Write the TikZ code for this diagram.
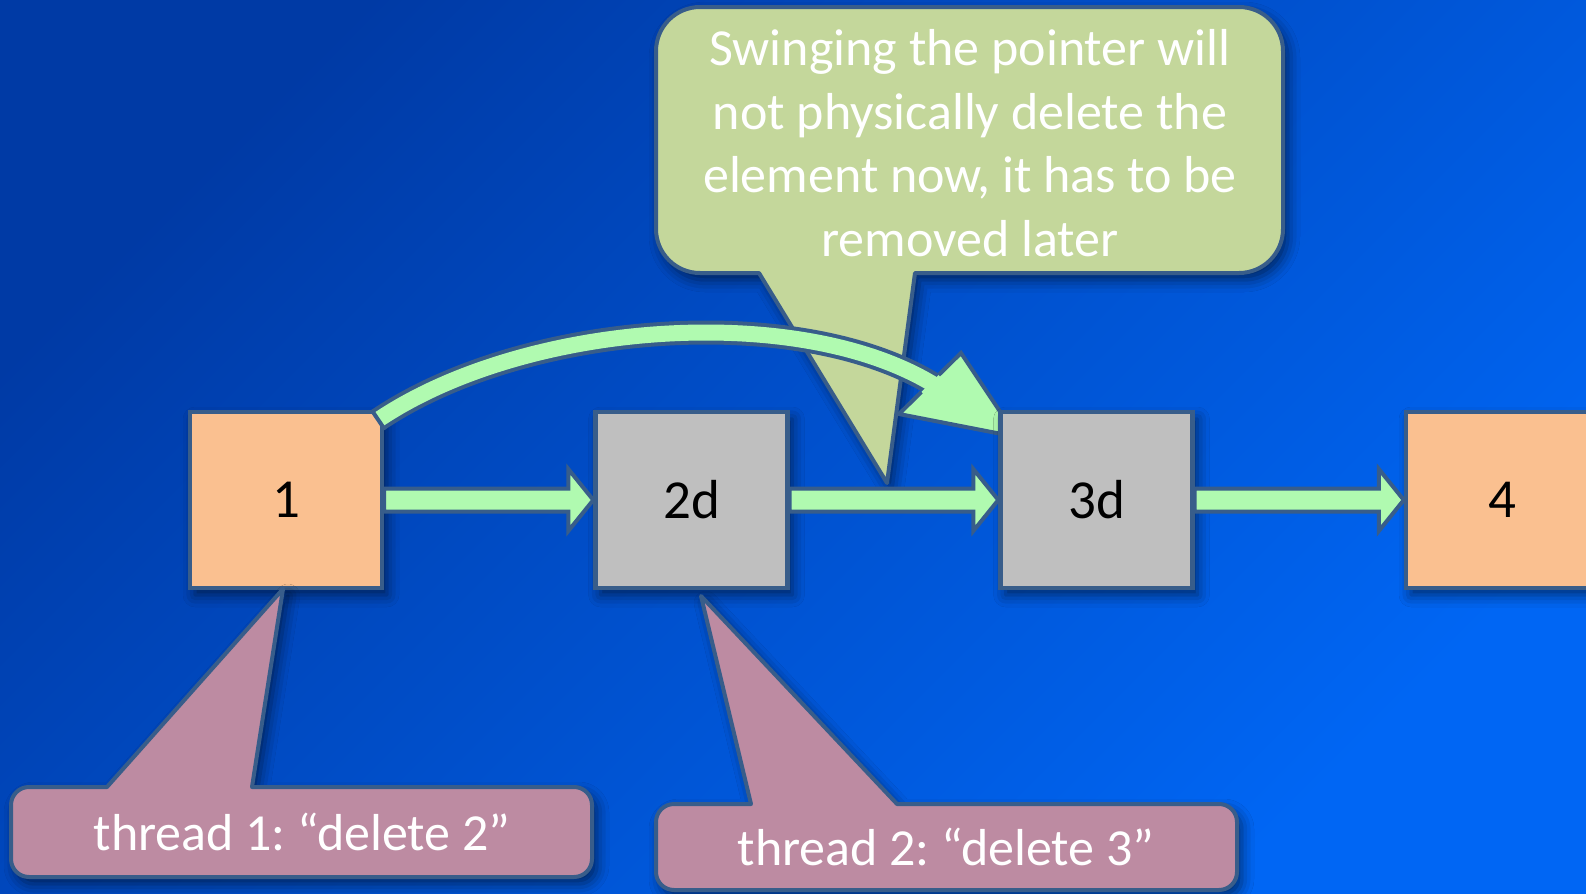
\documentclass[tikz,border=0pt]{standalone}
\usepackage{fontspec}
\setmainfont{Carlito}
\frenchspacing
\usetikzlibrary{calc,shadows.blur}

\definecolor{bgdark}{RGB}{0,58,165}
\definecolor{bglight}{RGB}{0,102,244}
\definecolor{edge}{RGB}{56,93,138}
\definecolor{nodeorange}{RGB}{250,192,144}
\definecolor{nodegray}{RGB}{191,191,191}
\definecolor{linkgreen}{RGB}{176,250,176}
\definecolor{noteolive}{RGB}{196,215,155}
\definecolor{notepink}{RGB}{189,139,162}

\tikzset{
  softshadow/.style={blur shadow={shadow xshift=2.5pt, shadow yshift=-3.5pt,
      shadow blur radius=6pt, shadow opacity=55}},
  elem/.style={draw=edge, line width=2.2pt, minimum width=96pt, minimum height=88pt,
      inner sep=0pt, text=black, font=\fontsize{27.5}{33}\selectfont, softshadow},
  live/.style={elem, fill=nodeorange},
  dead/.style={elem, fill=nodegray},
  link/.style={draw=edge, fill=linkgreen, line width=2pt, line join=miter,
      to path={($(\tikztostart)+(0,-11.5)$) -- ($(\tikztotarget)+(-25,-11.5)$)
        -- ($(\tikztotarget)+(-25,-31)$) -- (\tikztotarget)
        -- ($(\tikztotarget)+(-25,31)$) -- ($(\tikztotarget)+(-25,11.5)$)
        -- ($(\tikztostart)+(0,11.5)$) -- cycle}},
  swingband/.style={draw=edge, line width=2pt, double=linkgreen, double distance=8pt},
  noteshape/.style={draw=edge, line width=2pt, line join=round, softshadow},
  notetext/.style={text=white, align=center, inner sep=0pt,
      font=\fontsize{26}{31.85}\selectfont}
}

\begin{document}
\begin{tikzpicture}[x=0.5pt, y=-0.5pt]
\useasboundingbox (0,0) rectangle (1586,894);
\clip (0,0) rectangle (1586,894);

% background
\shade[top color=bgdark, bottom color=bglight, shading angle=45] (0,0) rectangle (1586,894);

% list elements 1 and 2d
\node[live] (b1) at (286,500) {1};
\node[dead] (b2) at (691.5,500) {2d};

% upper note
\coordinate (tnTip) at (887,483);
\path[noteshape, fill=noteolive] (970,7) [rounded corners=22pt] -- (1283,7) -- (1283,273)
  -- (960,273) [sharp corners] -- (915,273) -- (tnTip) -- (759,273) -- (720,273)
  [rounded corners=22pt] -- (656,273) -- (656,7) -- cycle;
\node[notetext] (tntext) at (970,143) {Swinging the pointer will\\not physically delete the\\element now, it has to be\\removed later};

% swung pointer from 1 towards 3d
\coordinate (swS) at ($(b1.north east)+(-6,10)$);
\coordinate (swE) at (936,386);
\coordinate (hdA) at (961,353);
\coordinate (hdB) at (899,414);
\coordinate (hdT) at (1017,437);
\draw[swingband] (swS) .. controls (525,321) and (800,301) .. (swE);
\draw[edge, line width=2pt] ($(swS)+(-6.7,-9.9)$) -- ($(swS)+(6.7,9.9)$);
\fill[linkgreen] (hdA) -- (hdT) -- (hdB) -- cycle;
\draw[edge, line width=2pt, line join=miter] ($(hdA)!0.36!(hdB)$) -- (hdA) -- (hdT) -- (hdB) -- ($(hdB)!0.36!(hdA)$);

% list elements 3d and 4
\node[dead] (b3) at (1096.5,500) {3d};
\node[live] (b4) at (1502,500) {4};

% next pointers
\draw[link] (b1.east) to (b2.west);
\draw[link] (b2.east) to (b3.west);
\draw[link] (b3.east) to (b4.west);

% thread notes
\coordinate (t1Tip) at (283,589);
\path[noteshape, fill=notepink] (300,877) [rounded corners=9pt] -- (11,877) -- (11,787)
  -- (80,787) [sharp corners] -- (107,787) -- (t1Tip) -- (252,787) -- (290,787)
  [rounded corners=9pt] -- (592,787) -- (592,877) -- cycle;
\node[notetext] (t1text) at (302,832) {thread 1: “delete 2”};

\coordinate (t2Tip) at (701,596);
\path[noteshape, fill=notepink] (946,890) [rounded corners=9pt] -- (656,890) -- (656,804)
  -- (720,804) [sharp corners] -- (751,804) -- (t2Tip) -- (897,804) -- (930,804)
  [rounded corners=9pt] -- (1237,804) -- (1237,890) -- cycle;
\node[notetext] (t2text) at (946,847) {thread 2: “delete 3”};
\end{tikzpicture}
\end{document}
